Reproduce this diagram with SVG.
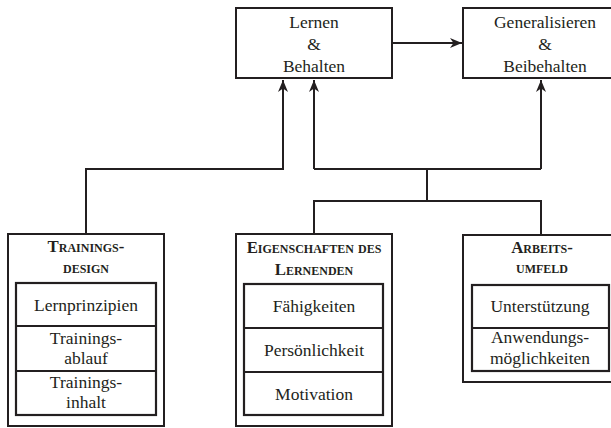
<svg xmlns="http://www.w3.org/2000/svg" width="611" height="428" viewBox="0 0 611 428">
  <defs>
    <marker id="arrow" viewBox="0 0 12 10" refX="12" refY="5" markerWidth="12" markerHeight="10" markerUnits="userSpaceOnUse" orient="auto">
      <path d="M0,0 L12,5 L0,10 L3.5,5 z" fill="#231f20"/>
    </marker>
  </defs>
  <style>
    .box { fill: #fff; stroke: #231f20; stroke-width: 2; }
    .inner { fill: none; stroke: #231f20; stroke-width: 2.2; }
    .line { fill: none; stroke: #231f20; stroke-width: 2; }
    text { font-family: 'Liberation Serif', 'DejaVu Serif', serif; fill: #231f20; text-anchor: middle; }
    .lbl { font-size: 17.5px; }
    .ttl { font-size: 16.8px; font-weight: bold; font-variant: small-caps; }
  </style>
  <rect width="611" height="428" fill="#fff"/>

  <!-- connectors -->
  <g id="connectors">
    <path class="line" d="M392,43 H462" marker-end="url(#arrow)"/>
    <path class="line" d="M86,234 V169 H283 V80" marker-end="url(#arrow)"/>
    <path class="line" d="M314,169 V80" marker-end="url(#arrow)"/>
    <path class="line" d="M541,169 V80" marker-end="url(#arrow)"/>
    <path class="line" d="M314,169 H541"/>
    <path class="line" d="M427,169 V201"/>
    <path class="line" d="M314,234 V201 H541 V235"/>
  </g>

  <!-- top nodes -->
  <g id="lernen">
    <rect class="box" x="236" y="8" width="156" height="70"/>
    <text class="lbl" x="314" y="28">Lernen</text>
    <text class="lbl" x="314" y="50">&amp;</text>
    <text class="lbl" x="314" y="72">Behalten</text>
  </g>
  <g id="generalisieren">
    <rect class="box" x="463" y="8" width="164" height="70"/>
    <text class="lbl" x="545" y="28">Generalisieren</text>
    <text class="lbl" x="545" y="50">&amp;</text>
    <text class="lbl" x="545" y="72">Beibehalten</text>
  </g>

  <!-- lower nodes -->
  <g id="trainingsdesign">
    <rect class="box" x="8" y="234" width="156" height="192"/>
    <text class="ttl" x="86" y="252">Trainings-</text>
    <text class="ttl" x="86" y="273">design</text>
    <rect class="inner" x="16" y="283" width="140" height="132"/>
    <path class="inner" d="M16,326 H156 M16,371 H156"/>
    <text class="lbl" x="86" y="311">Lernprinzipien</text>
    <text class="lbl" x="86" y="344">Trainings-</text>
    <text class="lbl" x="86" y="364">ablauf</text>
    <text class="lbl" x="86" y="388">Trainings-</text>
    <text class="lbl" x="86" y="408">inhalt</text>
  </g>
  <g id="eigenschaften">
    <rect class="box" x="236" y="234" width="156" height="192"/>
    <text class="ttl" x="314" y="253">Eigenschaften des</text>
    <text class="ttl" x="314" y="275">Lernenden</text>
    <rect class="inner" x="244" y="284" width="139" height="131"/>
    <path class="inner" d="M244,328 H383 M244,372 H383"/>
    <text class="lbl" x="314" y="312">Fähigkeiten</text>
    <text class="lbl" x="314" y="356">Persönlichkeit</text>
    <text class="lbl" x="314" y="400">Motivation</text>
  </g>
  <g id="arbeitsumfeld">
    <rect class="box" x="463" y="235" width="158" height="147"/>
    <text class="ttl" x="542" y="253">Arbeits-</text>
    <text class="ttl" x="542" y="273">umfeld</text>
    <rect class="inner" x="472" y="285" width="137" height="86"/>
    <path class="inner" d="M472,328 H609"/>
    <text class="lbl" x="540" y="312">Unterstützung</text>
    <text class="lbl" x="540" y="343">Anwendungs-</text>
    <text class="lbl" x="540" y="364">möglichkeiten</text>
  </g>
</svg>
